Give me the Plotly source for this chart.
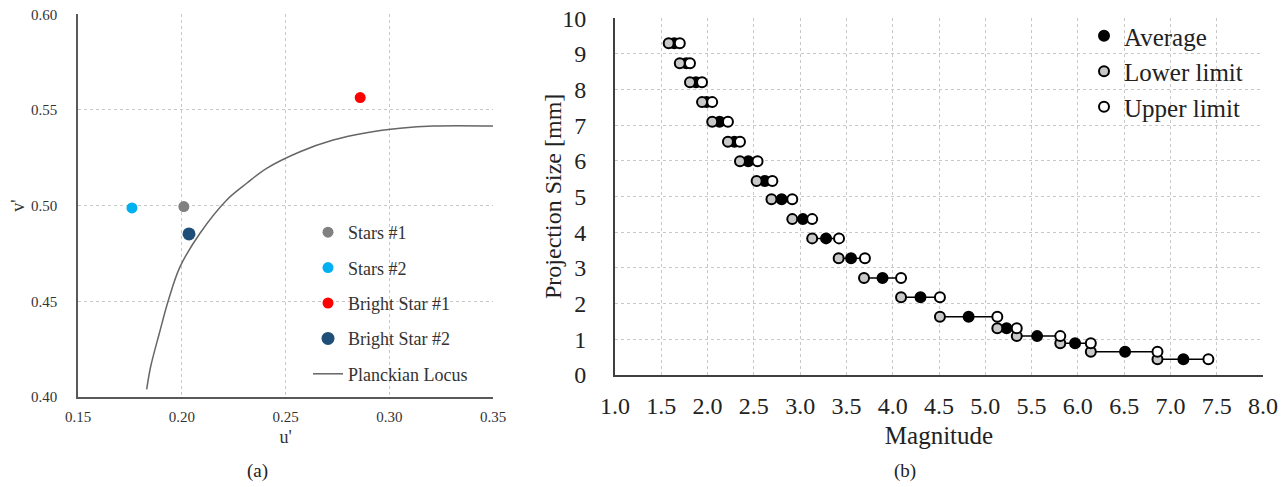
import plotly.graph_objects as go

# ---------------- (a) CIE u'v' chart data ----------------
stars1_u = [0.201]
stars1_v = [0.4995]
stars2_u = [0.176]
stars2_v = [0.4988]
bright1_u = [0.286]
bright1_v = [0.5565]
bright2_u = [0.2035]
bright2_v = [0.4852]

locus_u = [0.1831, 0.1850, 0.1892, 0.1936, 0.1992, 0.2088, 0.2217, 0.2313,
           0.2409, 0.2570, 0.2730, 0.2891, 0.3052, 0.3212, 0.3500]
locus_v = [0.4040, 0.4158, 0.4333, 0.4507, 0.4681, 0.4856, 0.5030, 0.5117,
           0.5195, 0.5282, 0.5343, 0.5381, 0.5404, 0.5416, 0.5416]

u_ticks = [0.15, 0.20, 0.25, 0.30, 0.35]
v_ticks = [0.40, 0.45, 0.50, 0.55, 0.60]

# ---------------- (b) projection size vs magnitude ----------------
proj_size = [9.30, 8.74, 8.21, 7.65, 7.10, 6.54, 5.99, 5.44, 4.93, 4.37,
             3.83, 3.27, 2.72, 2.18, 1.635, 1.31, 1.09, 0.89, 0.65, 0.44]
mag_lower = [1.58, 1.70, 1.81, 1.94, 2.05, 2.22, 2.35, 2.53, 2.69, 2.915,
             3.13, 3.416, 3.69, 4.09, 4.51, 5.13, 5.34, 5.81, 6.14, 6.86]
mag_avg = [1.64, 1.77, 1.875, 1.99, 2.13, 2.29, 2.44, 2.62, 2.80, 3.03,
           3.28, 3.55, 3.89, 4.30, 4.82, 5.23, 5.56, 5.97, 6.51, 7.14]
mag_upper = [1.70, 1.81, 1.94, 2.05, 2.22, 2.35, 2.54, 2.70, 2.915, 3.13,
             3.42, 3.70, 4.09, 4.51, 5.13, 5.34, 5.81, 6.14, 6.86, 7.41]

mag_ticks = [1.0, 1.5, 2.0, 2.5, 3.0, 3.5, 4.0, 4.5, 5.0, 5.5, 6.0, 6.5, 7.0, 7.5, 8.0]
size_ticks = list(range(0, 11))

SERIF = "Liberation Serif"
W, H = 1286, 487

fig = go.Figure()

# ---- chart (a) ----
fig.add_trace(go.Scatter(x=stars1_u, y=stars1_v, mode="markers", name="Stars #1",
                         marker=dict(color="#808080", size=11), legend="legend",
                         legendgroup="a1"))
fig.add_trace(go.Scatter(x=stars2_u, y=stars2_v, mode="markers", name="Stars #2",
                         marker=dict(color="#00B0F0", size=11), legend="legend",
                         legendgroup="a2"))
fig.add_trace(go.Scatter(x=bright1_u, y=bright1_v, mode="markers", name="Bright Star #1",
                         marker=dict(color="#FF0000", size=11), legend="legend",
                         legendgroup="a3"))
fig.add_trace(go.Scatter(x=bright2_u, y=bright2_v, mode="markers", name="Bright Star #2",
                         marker=dict(color="#1F4E79", size=13), legend="legend",
                         legendgroup="a4"))
fig.add_trace(go.Scatter(x=locus_u, y=locus_v, mode="lines", name="Planckian Locus",
                         line=dict(color="#666666", width=1.5, shape="spline"),
                         legend="legend", legendgroup="a5"))

# ---- chart (b) ----
seg_x, seg_y = [], []
for lo, up, yy in zip(mag_lower, mag_upper, proj_size):
    seg_x += [lo, up, None]
    seg_y += [yy, yy, None]
fig.add_trace(go.Scatter(x=seg_x, y=seg_y, mode="lines", showlegend=False,
                         line=dict(color="black", width=1.5), xaxis="x2", yaxis="y2",
                         hoverinfo="skip"))
fig.add_trace(go.Scatter(x=mag_avg, y=proj_size, mode="markers", name="Average",
                         marker=dict(color="black", size=10, line=dict(color="black", width=2)),
                         xaxis="x2", yaxis="y2", legend="legend2", legendgroup="b1"))
fig.add_trace(go.Scatter(x=mag_lower, y=proj_size, mode="markers", name="Lower limit",
                         marker=dict(color="#C8C8C8", size=10, line=dict(color="black", width=2)),
                         xaxis="x2", yaxis="y2", legend="legend2", legendgroup="b2"))
fig.add_trace(go.Scatter(x=mag_upper, y=proj_size, mode="markers", name="Upper limit",
                         marker=dict(color="white", size=10, line=dict(color="black", width=2)),
                         xaxis="x2", yaxis="y2", legend="legend2", legendgroup="b3"))

grid = dict(showgrid=True, gridcolor="#C8C8C8", griddash="dot", gridwidth=1,
            zeroline=False, automargin=False)

fig.update_layout(
    template="none",
    width=W, height=H, autosize=False,
    margin=dict(l=0, r=0, t=0, b=0, pad=0),
    paper_bgcolor="white", plot_bgcolor="white",
    font=dict(family=SERIF, color="#222222"),
    xaxis=dict(domain=[78 / W, 493 / W], range=[0.15, 0.35], tickvals=u_ticks,
               ticktext=[f"{t:.2f}" for t in u_ticks],
               showline=True, linecolor="#595959", linewidth=1.5,
               ticks="outside", ticklen=0, ticklabelstandoff=5,
               tickfont=dict(size=15, family=SERIF, color="#333333"),
               title=dict(text="u'", font=dict(size=18, family=SERIF, color="#333333"), standoff=7),
               **grid),
    yaxis=dict(domain=[1 - 397 / H, 1 - 14.3 / H], range=[0.40, 0.60], tickvals=v_ticks,
               ticktext=[f"{t:.2f}" for t in v_ticks],
               showline=True, linecolor="#595959", linewidth=1.5,
               ticks="outside", ticklen=0, ticklabelstandoff=16,
               tickfont=dict(size=15, family=SERIF, color="#333333"),
               title=dict(text="v'", font=dict(size=18, family=SERIF, color="#333333"), standoff=2),
               **grid),
    xaxis2=dict(domain=[615 / W, 1263 / W], range=[1, 8], tickvals=mag_ticks,
                ticktext=[f"{t:.1f}" for t in mag_ticks],
                showline=True, linecolor="#404040", linewidth=2, anchor="y2",
                ticks="outside", ticklen=0, ticklabelstandoff=8,
                tickfont=dict(size=24, family=SERIF, color="#222222"),
                title=dict(text="Magnitude", font=dict(size=25, family=SERIF, color="#222222"), standoff=9),
                **grid),
    yaxis2=dict(domain=[1 - 375 / H, 1 - 18.3 / H], range=[0, 10], tickvals=size_ticks,
                showline=True, linecolor="#404040", linewidth=2, anchor="x2",
                ticks="outside", ticklen=0, ticklabelstandoff=22,
                tickfont=dict(size=24, family=SERIF, color="#222222"),
                **grid),
    legend=dict(x=308 / W, y=1 - 214 / H, xanchor="left", yanchor="top",
                bgcolor="rgba(0,0,0,0)", font=dict(size=18, family=SERIF, color="#333333"),
                tracegroupgap=9, itemclick=False),
    legend2=dict(x=1084 / W, y=1 - 13 / H, xanchor="left", yanchor="top",
                 bgcolor="rgba(0,0,0,0)", font=dict(size=25, family=SERIF, color="#222222"),
                 tracegroupgap=0, itemclick=False),
    showlegend=True,
    annotations=[
        dict(text="Projection Size [mm]", x=553 / W, y=1 - 197 / H, xref="paper", yref="paper",
             xanchor="center", yanchor="middle", textangle=-90, showarrow=False,
             font=dict(size=24, family=SERIF, color="#222222")),
        dict(text="(a)", x=257 / W, y=1 - 471 / H, xref="paper", yref="paper",
             xanchor="center", yanchor="middle",
             showarrow=False, font=dict(size=19, family=SERIF, color="#222222")),
        dict(text="(b)", x=905 / W, y=1 - 471 / H, xref="paper", yref="paper",
             xanchor="center", yanchor="middle",
             showarrow=False, font=dict(size=19, family=SERIF, color="#222222")),
    ],
)

fig.write_html("out.html")
